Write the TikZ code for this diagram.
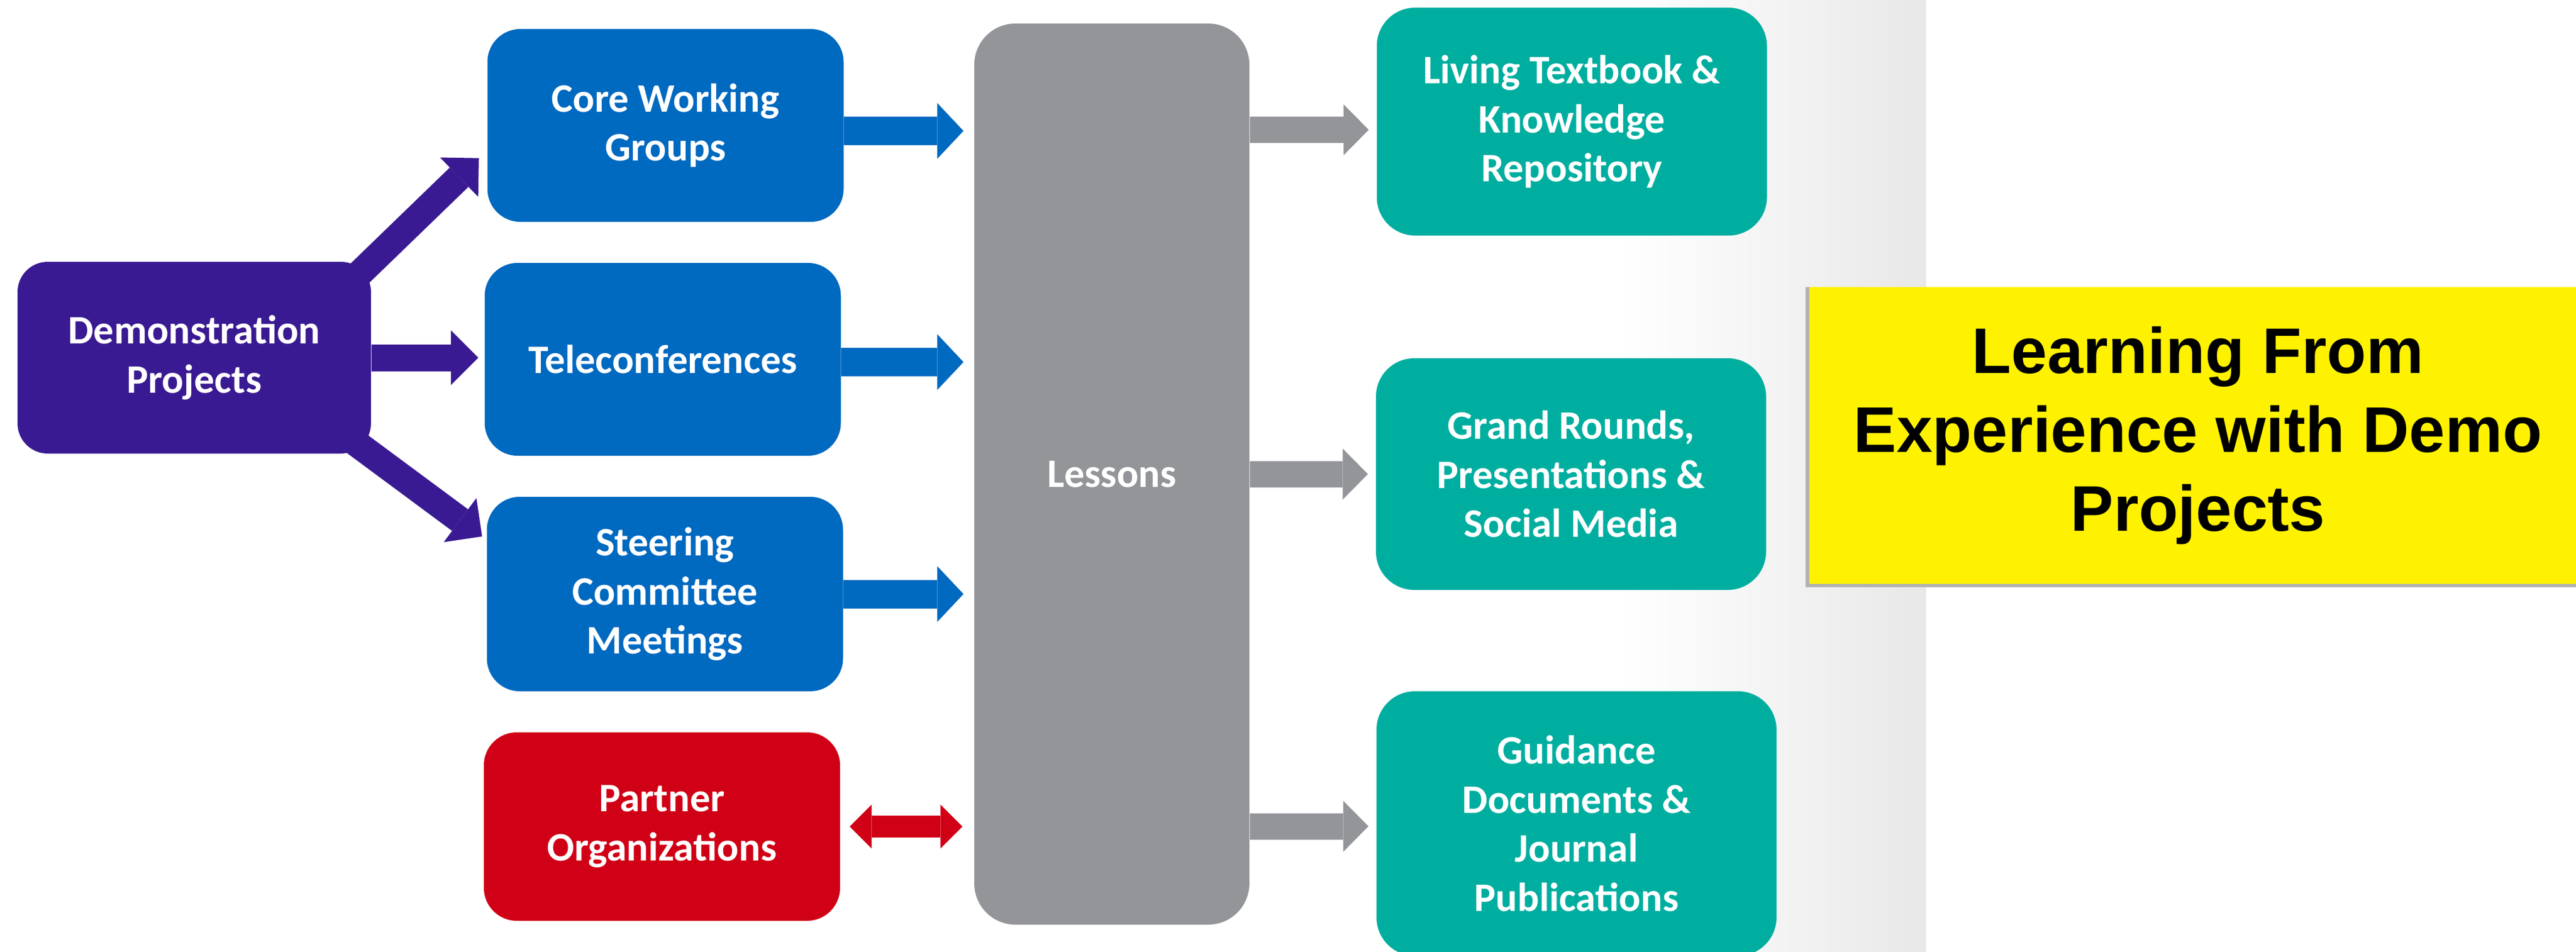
\documentclass[tikz,border=0pt]{standalone}
\usepackage{fontspec}
\newfontfamily\calibri{Carlito}
\newfontfamily\arial{Liberation Sans}
\usetikzlibrary{arrows.meta, shadows}
\definecolor{demopurple}{RGB}{58,26,146}
\definecolor{workblue}{RGB}{0,105,192}
\definecolor{lessongray}{RGB}{147,149,152}
\definecolor{outteal}{RGB}{0,174,160}
\definecolor{partnerred}{RGB}{208,0,22}

\begin{document}
\begin{tikzpicture}[
	box/.style={rounded corners=0.6cm, inner sep=0pt, align=center, text=white,
		font=\calibri\bfseries\fontsize{21}{25.5}\selectfont},
	demobox/.style={box, fill=demopurple, rounded corners=0.55cm, minimum width=6.45cm, minimum height=3.5cm},
	bluebox/.style={box, fill=workblue, minimum width=6.5cm, minimum height=3.52cm},
	redbox/.style={box, fill=partnerred, minimum width=6.5cm, minimum height=3.44cm},
	graybox/.style={box, fill=lessongray, rounded corners=0.75cm, minimum width=5.02cm, minimum height=16.45cm},
	tealbox/.style={box, fill=outteal, rounded corners=0.7cm, minimum width=7.12cm},
	notebox/.style={fill=yellow, inner sep=0pt, align=center, minimum width=14.18cm, minimum height=5.42cm,
		font=\arial\bfseries\fontsize{33.5}{41}\selectfont,
		drop shadow={shadow xshift=0cm, shadow yshift=-0.03cm, shadow scale=1.01, opacity=1, fill=black!30}},
	purplearrow/.style={demopurple, line width=0.49cm, -{Triangle[width=1cm,length=0.5cm,line width=0pt]}},
	bluearrow/.style={workblue, line width=0.52cm, shorten >=0.19cm, -{Triangle[width=1.02cm,length=0.48cm,line width=0pt]}},
	grayarrow/.style={lessongray, line width=0.48cm, shorten >=0.14cm, -{Triangle[width=0.93cm,length=0.46cm,line width=0pt]}},
	redarrow/.style={partnerred, line width=0.4cm, shorten <=0.17cm, shorten >=0.21cm,
		{Triangle[width=0.8cm,length=0.4cm,line width=0pt]}-{Triangle[width=0.8cm,length=0.4cm,line width=0pt]}}
	]
	\useasboundingbox (0,0) rectangle (47.01,-17.38);
	\fill[white] (0,0) rectangle (47.01,-17.38);
	\shade[left color=white, right color=black!9] (29.6,0) rectangle (35.15,-17.38);

	\node[demobox] (demo) at (3.545,-6.53) {Demonstration\\Projects};
	\node[bluebox] (core) at (12.145,-2.29) {Core Working\\Groups};
	\node[bluebox] (tele) at (12.095,-6.56) {Teleconferences};
	\node[bluebox, minimum height=3.55cm] (steer) at (12.135,-10.845) {Steering\\Committee\\Meetings};
	\node[redbox] (partner) at (12.08,-15.09) {Partner\\Organizations};
	\node[graybox] (lessons) at (20.29,-8.655) {Lessons};
	\node[tealbox, minimum height=4.16cm] (living) at (28.685,-2.22) {Living Textbook \&\\Knowledge\\Repository};
	\node[tealbox, minimum height=4.23cm] (grand) at (28.67,-8.655) {Grand Rounds,\\Presentations \&\\Social Media};
	\node[tealbox, minimum width=7.3cm, minimum height=4.83cm] (guide) at (28.77,-15.035) {Guidance\\Documents \&\\Journal\\Publications};
	\node[notebox] (learn) at (40.11,-7.95) {Learning From\\Experience with Demo\\Projects};

	\path[purplearrow]
	([shift={(-0.38,-0.38)}]demo.north east) edge ([shift={(-0.15,1.17)}]core.south west)
	(demo.east) edge[shorten >=0.11cm] (demo.east -| tele.west)
	([shift={(-0.39,0.28)}]demo.south east) edge ([shift={(-0.08,-0.73)}]steer.north west)
	;
	\path[bluearrow]
	([yshift=-0.1cm]core.east) edge ([yshift=-0.1cm]core.east -| lessons.west)
	([yshift=-0.05cm]tele.east) edge ([yshift=-0.05cm]tele.east -| lessons.west)
	(steer.east) edge (steer.east -| lessons.west)
	;
	\path[grayarrow]
	([yshift=-0.15cm]lessons.east |- living.west) edge ([yshift=-0.15cm]living.west)
	(lessons.east |- grand.west) edge (grand.west)
	([yshift=-0.05cm]lessons.east |- guide.west) edge ([yshift=-0.05cm]guide.west)
	;
	\path[redarrow] (partner.east) edge (partner.east -| lessons.west);
\end{tikzpicture}
\end{document}
